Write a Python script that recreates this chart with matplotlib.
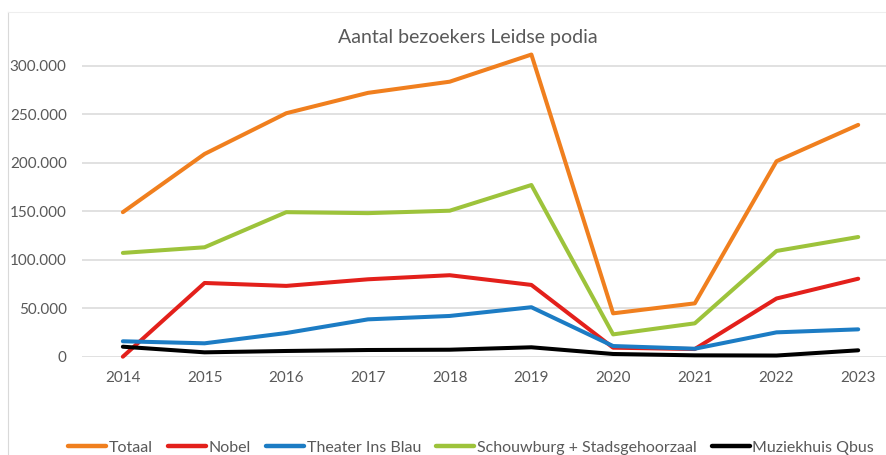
import matplotlib

matplotlib.use('Agg')
import matplotlib.pyplot as plt
from matplotlib.lines import Line2D
from matplotlib.ticker import FuncFormatter

# visitor numbers per venue
years = ['2014', '2015', '2016', '2017', '2018', '2019', '2020', '2021', '2022', '2023']
totaal = [149000, 209000, 251000, 272000, 283500, 311500, 44700, 55000, 201500, 239000]
nobel = [0, 76000, 73000, 79800, 84000, 74000, 9300, 7900, 60000, 80400]
ins_blau = [15900, 13800, 24400, 38500, 42000, 51000, 11000, 8200, 25100, 28200]
schouwburg = [107000, 112800, 149000, 148000, 150500, 177000, 23000, 34400, 109000, 123400]
qbus = [10300, 4500, 5900, 6900, 7200, 9700, 2800, 1400, 1200, 6600]

series_names = ['Totaal', 'Nobel', 'Theater Ins Blau', 'Schouwburg + Stadsgehoorzaal', 'Muziekhuis Qbus']
series_colors = ['#F07F1E', '#E3201B', '#1C7CC4', '#9DC33B', '#000000']

plt.rcParams['font.family'] = ['Lato', 'DejaVu Sans']
text_color = '#595959'

fig = plt.figure(figsize=(8.86, 4.55), dpi=100)
ax = fig.add_axes([82 / 886, 98.3 / 455, 804 / 886, 310.4 / 455])

x = list(range(len(years)))
for values, name, color in zip([totaal, nobel, ins_blau, schouwburg, qbus], series_names, series_colors):
    ax.plot(x, values, color=color, linewidth=2.9, label=name, solid_capstyle='round',
            solid_joinstyle='round', clip_on=False, zorder=3)

# axes styling in the spreadsheet look
ax.set_xlim(-0.5, 9.34)
ax.set_ylim(0, 320000)
ax.set_yticks(range(0, 300001, 50000))
ax.yaxis.set_major_formatter(FuncFormatter(lambda v, p: f'{v:,.0f}'.replace(',', '.')))
ax.set_xticks(x)
ax.set_xticklabels(years)
ax.grid(axis='y', color='#D9D9D9', linewidth=1.1)
ax.set_axisbelow(True)
for side in ['top', 'right', 'left', 'bottom']:
    ax.spines[side].set_visible(False)
ax.tick_params(axis='both', length=0, labelsize=11, labelcolor=text_color)
ax.tick_params(axis='y', pad=11)
ax.tick_params(axis='x', pad=10)

# title
fig.text(468 / 886, 1 - 38 / 455, 'Aantal bezoekers Leidse podia', ha='center', va='center',
         fontsize=14, color=text_color)

# legend along the bottom
leg = fig.legend(loc='center', bbox_to_anchor=(471 / 886, 1 - 447.7 / 455), ncol=5, frameon=False,
                 fontsize=11.5, handlelength=2.4, handletextpad=0.15, columnspacing=0.95,
                 labelcolor=text_color)
for handle in leg.get_lines():
    handle.set_linewidth(3.2)

# chart area border (cropped on the right and bottom)
fig.add_artist(Line2D([8 / 886, 8 / 886], [0, 1 - 12 / 455], color='#D9D9D9', linewidth=0.8))
fig.add_artist(Line2D([8 / 886, 1], [1 - 12 / 455, 1 - 12 / 455], color='#EEEEEE', linewidth=0.8))

plt.savefig('out.png', dpi=100)
